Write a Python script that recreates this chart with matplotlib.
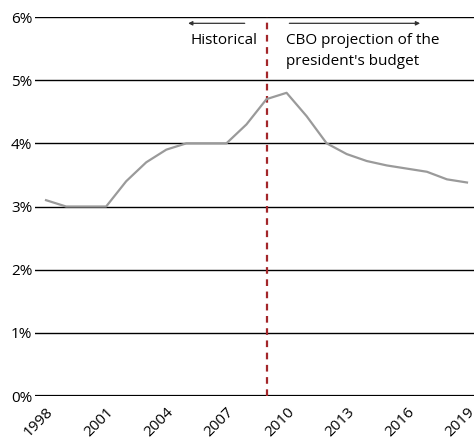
import matplotlib
matplotlib.use('Agg')
import matplotlib.pyplot as plt

plt.rcParams['font.family'] = ['Open Sans', 'DejaVu Sans']

# data
years = list(range(1998, 2020))
share = [3.1, 3.0, 3.0, 3.0, 3.4, 3.7, 3.9, 4.0, 4.0, 4.0, 4.3, 4.7, 4.8,
         4.43, 4.0, 3.83, 3.72, 3.65, 3.6, 3.55, 3.43, 3.38]
tick_years = [1998, 2001, 2004, 2007, 2010, 2013, 2016, 2019]
y_ticks = [0, 1, 2, 3, 4, 5, 6]
split_year = 2009

fig = plt.figure(figsize=(4.74, 4.42), dpi=100)
ax = fig.add_axes([35 / 474, 1 - 396 / 442, 1 - 35 / 474, (396 - 17) / 442])

for v in y_ticks:
    ax.axhline(v, color='black', lw=1.6 if v == 0 else 1.0, zorder=1)

ax.plot(years, share, color='#9a9a9a', lw=1.6, zorder=3)
ax.axvline(split_year, color='#a3262a', lw=1.6, ls=(0, (3, 2.5)), zorder=2)

ax.set_xlim(1997.45, 2019.35)
ax.set_ylim(0, 6)
ax.set_yticks(y_ticks)
ax.set_yticklabels([f'{v}%' for v in y_ticks])
ax.set_xticks(tick_years)
ax.set_xticklabels([str(y) for y in tick_years], rotation=45, ha='right',
                   rotation_mode='anchor')
ax.tick_params(length=0, labelsize=11)
ax.tick_params(axis='y', pad=2)
ax.tick_params(axis='x', pad=6)
for s in ax.spines.values():
    s.set_visible(False)

# arrows and labels
ax.annotate('', xy=(2004.95, 5.9), xytext=(2008.05, 5.9),
            arrowprops=dict(arrowstyle='-|>', color='#333333', lw=0.9,
                            mutation_scale=6))
ax.annotate('', xy=(2016.8, 5.9), xytext=(2010.0, 5.9),
            arrowprops=dict(arrowstyle='-|>', color='#333333', lw=0.9,
                            mutation_scale=6))
ax.text(2008.55, 5.63, 'Historical', ha='right', va='center', fontsize=11)
ax.text(2009.95, 5.74, 'CBO projection of the\npresident\'s budget',
        ha='left', va='top', fontsize=11, linespacing=1.5)

fig.savefig('out.png', dpi=100)
